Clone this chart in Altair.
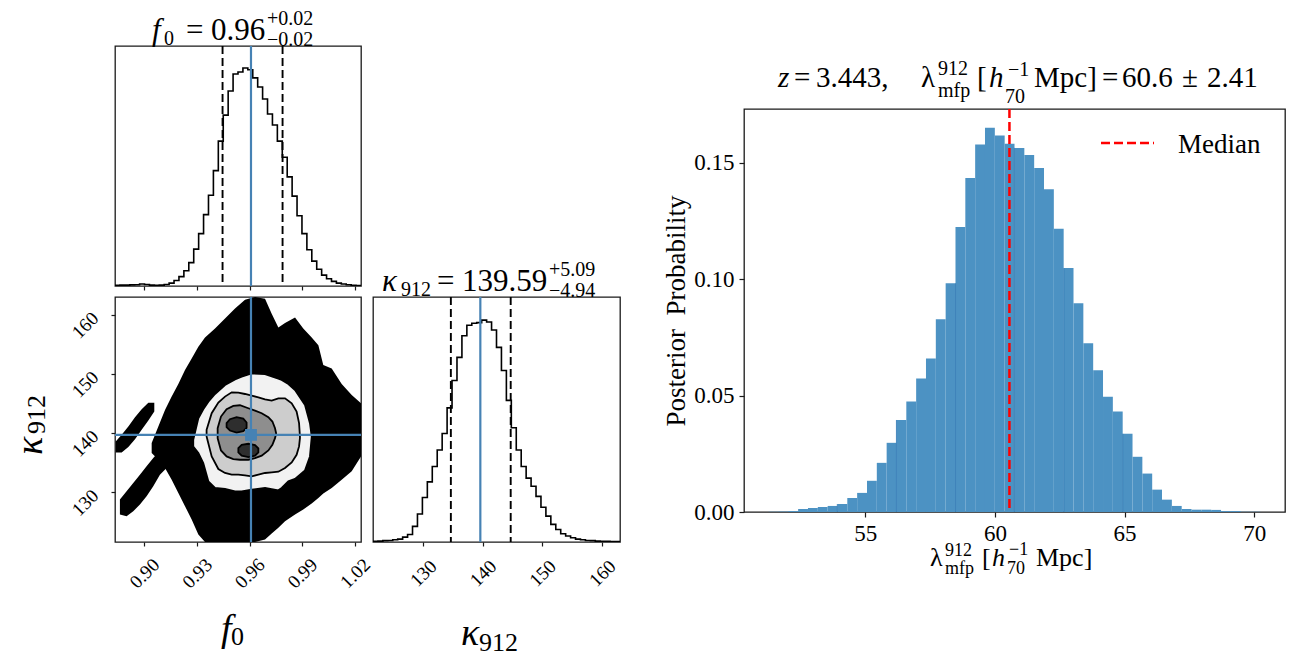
import altair as alt
import pandas as pd

SERIF = "Liberation Serif"
BLUE = "#4682b4"
FRAME = "#1a1a1a"

# ---------------- corner plot data ----------------
F0_DOMAIN = [0.8833, 1.0235]
K_DOMAIN = [121.6, 163.0]
F0_TICKS = [0.90, 0.93, 0.96, 0.99, 1.02]
K_TICKS = [130, 140, 150, 160]

f0_hist = [0.003, 0.004, 0.004, 0.005, 0.006, 0.009, 0.007, 0.004, 0.003, 0.004,
           0.007, 0.013, 0.025, 0.043, 0.070, 0.107, 0.169, 0.240, 0.327, 0.416,
           0.529, 0.664, 0.783, 0.894, 0.972, 0.981, 0.999, 0.991, 0.954, 0.912,
           0.857, 0.788, 0.738, 0.664, 0.590, 0.500, 0.412, 0.322, 0.240, 0.166,
           0.114, 0.077, 0.050, 0.033, 0.021, 0.013, 0.009, 0.006, 0.003, 0.0015]
k_hist = [0.003, 0.004, 0.006, 0.007, 0.010, 0.013, 0.022, 0.034, 0.070, 0.126,
          0.200, 0.270, 0.339, 0.413, 0.487, 0.602, 0.725, 0.829, 0.926, 0.973,
          0.982, 0.985, 0.996, 0.988, 0.952, 0.874, 0.770, 0.636, 0.513, 0.413,
          0.339, 0.287, 0.250, 0.205, 0.156, 0.116, 0.079, 0.056, 0.037, 0.027,
          0.019, 0.013, 0.010, 0.007, 0.006, 0.004, 0.003, 0.003, 0.002, 0.002]
f0_quant = [0.9446, 0.9608, 0.9788]
k_quant = [134.65, 139.59, 144.68]
truth_f0 = 0.9608
truth_k = 139.7

# black sample cloud envelopes (f0, kappa low, kappa high)
main_f0 = [0.9042, 0.9080, 0.9118, 0.9156, 0.9194, 0.9232, 0.9270, 0.9308, 0.9346, 0.9403,
           0.9460, 0.9517, 0.9574, 0.9631, 0.9688, 0.9726, 0.9764, 0.9802, 0.9859, 0.9906,
           0.9954, 0.9992, 1.0020, 1.0068, 1.0125, 1.0182, 1.0235]
main_hi = [138.31, 141.11, 143.92, 146.17, 148.30, 150.65, 152.62, 154.58, 156.15, 157.67,
           159.35, 161.04, 162.55, 163.0, 162.72, 160.19, 157.84, 158.62, 159.52, 157.67,
           156.15, 154.86, 151.50, 150.93, 148.30, 146.45, 145.04]
main_lo = [136.63, 135.50, 134.10, 132.14, 129.89, 127.65, 125.40, 122.88, 121.6, 121.6,
           121.6, 121.6, 121.6, 121.6, 122.04, 123.04, 124.00, 125.12, 126.24, 127.09,
           128.10, 129.05, 129.78, 130.73, 132.14, 133.54, 136.06]
arm_f0 = [0.8861, 0.8899, 0.8937, 0.8975, 0.9013, 0.9051, 0.9089, 0.9127]
arm_hi = [128.77, 130.17, 131.57, 132.98, 134.38, 135.78, 137.07, 137.75]
arm_lo = [126.24, 125.96, 126.80, 127.93, 129.33, 131.01, 132.98, 134.10]
blob_f0 = [0.8837, 0.8871, 0.8909, 0.8947, 0.8985, 0.9023, 0.9057]
blob_hi = [138.59, 139.71, 141.11, 142.69, 144.03, 145.15, 145.15]
blob_lo = [136.74, 136.74, 137.64, 138.98, 140.55, 142.12, 143.64]

# density contours (f0, kappa low, kappa high)
c1_f0 = [0.9279, 0.9308, 0.9336, 0.9365, 0.9403, 0.9460, 0.9517, 0.9555, 0.9612, 0.9688,
         0.9764, 0.9783, 0.9821, 0.9859, 0.9916, 0.9944, 0.9954]
c1_hi = [138.87, 142.52, 144.03, 145.32, 146.61, 148.13, 149.08, 149.53, 150.09, 149.98,
         149.20, 148.97, 148.30, 147.29, 144.76, 141.68, 139.43]
c1_lo = [137.75, 136.63, 134.94, 131.86, 130.73, 130.56, 130.17, 130.17, 130.45, 130.73,
         130.34, 130.73, 131.86, 132.25, 133.71, 136.06, 139.32]
c2_f0 = [0.9355, 0.9384, 0.9422, 0.9460, 0.9498, 0.9536, 0.9574, 0.9612, 0.9650, 0.9688,
         0.9726, 0.9764, 0.9802, 0.9840, 0.9868, 0.9882, 0.9887]
c2_hi = [140.55, 143.36, 145.15, 146.17, 146.89, 146.84, 146.61, 146.33, 146.05, 145.72,
         145.49, 145.88, 145.88, 145.04, 143.64, 141.68, 139.43]
c2_lo = [139.43, 136.06, 133.93, 133.26, 132.98, 132.98, 132.87, 132.70, 132.98, 133.26,
         133.37, 133.48, 134.10, 135.05, 136.34, 137.75, 139.15]
c3_f0 = [0.9418, 0.9437, 0.9469, 0.9507, 0.9545, 0.9593, 0.9631, 0.9669, 0.9707, 0.9730,
         0.9745, 0.9751]
c3_hi = [140.83, 142.80, 144.03, 144.59, 144.71, 144.20, 143.81, 143.36, 142.69, 141.96,
         140.83, 139.99]
c3_lo = [139.15, 137.07, 136.06, 135.62, 135.50, 135.50, 135.78, 136.18, 137.07, 138.03,
         139.15, 139.88]
c4_f0 = [0.9469, 0.9488, 0.9526, 0.9564, 0.9583, 0.9536, 0.9555, 0.9593, 0.9631, 0.9650]
c4_hi = [141.68, 142.35, 142.69, 142.46, 141.79, 137.47, 138.03, 138.20, 137.97, 137.41]
c4_lo = [141.00, 140.44, 140.10, 140.33, 140.89, 136.74, 136.18, 135.95, 136.18, 136.74]
c4_g = ["a"] * 5 + ["b"] * 5

# ---------------- right histogram data ----------------
LAM_EDGES = [51.27, 70.24]
LAM_DOMAIN = [50.32, 71.19]
LAM_TICKS = [55, 60, 65, 70]
P_TICKS = [0.0, 0.05, 0.10, 0.15]
lam_hist = [0.0001, 0.0002, 0.0004, 0.0013, 0.0017, 0.0022, 0.0026, 0.0034, 0.0060, 0.0082,
            0.0134, 0.0211, 0.0297, 0.0395, 0.0474, 0.0573, 0.0659, 0.0827, 0.0982, 0.1223,
            0.1434, 0.1578, 0.1649, 0.1616, 0.1581, 0.1563, 0.1533, 0.1477, 0.1385, 0.1216,
            0.1047, 0.0896, 0.0724, 0.0609, 0.0495, 0.0431, 0.0336, 0.0237, 0.0165, 0.0096,
            0.0053, 0.0026, 0.0013, 0.0010, 0.0010, 0.0009, 0.0004, 0.0004, 0.0001, 0.0001]
lam_median = 60.56
# faint darker seams visible inside the bars
seam_x = [53.92, 56.20, 58.48, 60.75, 62.66, 64.93]
seam_top = [0.0034, 0.0395, 0.0982, 0.1563, 0.1047, 0.0336]

# ---------------- sizes ----------------
W1, H_TOP, H_BOT, WK = 246, 240, 245, 247
WR, HR = 541, 403

ONE = pd.DataFrame({"a": [0]})


def steps(vals, lo, hi):
    n = len(vals)
    w = (hi - lo) / n
    return pd.DataFrame({"x": [lo + i * w for i in range(n + 1)],
                         "y": list(vals) + [vals[-1]]})


def txt(text, x, y, size, italic=False, angle=0, align="left"):
    kw = dict(text=text, align=align, baseline="alphabetic", fontSize=size,
              font=SERIF, color="black")
    if italic:
        kw["fontStyle"] = "italic"
    if angle:
        kw["angle"] = angle
    return alt.Chart(ONE).mark_text(**kw).encode(x=alt.value(x), y=alt.value(y))


xf = alt.Scale(domain=F0_DOMAIN, nice=False, zero=False)
xk = alt.Scale(domain=K_DOMAIN, nice=False, zero=False)


def rot_x_axis(values, fmt):
    return alt.Axis(values=values, format=fmt, labelAngle=-45, labelAlign="center",
                    labelBaseline="middle", labelPadding=27, labelFontSize=19,
                    labelFlush=False, labelOverlap=False, title=None, tickSize=4)


# ---------- f0 marginal ----------
f0_line = alt.Chart(steps(f0_hist, *F0_DOMAIN)).mark_line(
    interpolate="step-after", color="black", strokeWidth=1.6, clip=True).encode(
    x=alt.X("x:Q", scale=xf, axis=alt.Axis(values=F0_TICKS, labels=False, title=None, tickSize=4)),
    y=alt.Y("y:Q", scale=alt.Scale(domain=[0, 1.1], nice=False), axis=None))
f0_dash = alt.Chart(pd.DataFrame({"x": [f0_quant[0], f0_quant[2]]})).mark_rule(
    color="black", strokeDash=[8, 4], strokeWidth=1.9).encode(x="x:Q")
f0_med = alt.Chart(pd.DataFrame({"x": [f0_quant[1]]})).mark_rule(
    color=BLUE, strokeWidth=2.2).encode(x="x:Q")
f0_panel = alt.layer(
    f0_line, f0_dash, f0_med,
    txt("f", 37, -6, 31, italic=True), txt("0", 49, -1, 20),
    txt("=", 71, -6, 31), txt("0.96", 96, -6, 31),
    txt("+0.02", 152, -21, 20), txt("\u22120.02", 152, 0, 20),
).properties(width=W1, height=H_TOP)

# ---------- 2D panel ----------
cloud = pd.concat([
    pd.DataFrame({"f0": main_f0, "lo": main_lo, "hi": main_hi, "g": "main"}),
    pd.DataFrame({"f0": arm_f0, "lo": arm_lo, "hi": arm_hi, "g": "arm"}),
    pd.DataFrame({"f0": blob_f0, "lo": blob_lo, "hi": blob_hi, "g": "blob"}),
])
cloud_layer = alt.Chart(cloud).mark_area(color="black", clip=True).encode(
    x=alt.X("f0:Q", scale=xf, axis=rot_x_axis(F0_TICKS, ".2f")),
    y=alt.Y("lo:Q", scale=alt.Scale(domain=K_DOMAIN, nice=False, zero=False),
            axis=alt.Axis(values=K_TICKS, labelAngle=-45, labelAlign="right",
                          labelBaseline="middle", labelPadding=16, labelFontSize=19,
                          labelOverlap=False, title=None, tickSize=4)),
    y2="hi:Q", detail="g:N")


def contour(f0s, los, his, fill, groups=None):
    df = pd.DataFrame({"f0": f0s, "lo": los, "hi": his,
                       "g": groups if groups else ["c"] * len(f0s)})
    return alt.Chart(df).mark_area(fill=fill, stroke="black", strokeWidth=1.8,
                                   clip=True).encode(
        x="f0:Q", y="lo:Q", y2="hi:Q", detail="g:N")


c_layers = [contour(c1_f0, c1_lo, c1_hi, "#f2f2f2"),
            contour(c2_f0, c2_lo, c2_hi, "#cdcdcd"),
            contour(c3_f0, c3_lo, c3_hi, "#8e8e8e"),
            contour(c4_f0, c4_lo, c4_hi, "#2e2e2e", c4_g)]
vline = alt.Chart(pd.DataFrame({"x": [truth_f0]})).mark_rule(color=BLUE, strokeWidth=2.2).encode(x="x:Q")
hline = alt.Chart(pd.DataFrame({"y": [truth_k]})).mark_rule(color=BLUE, strokeWidth=2.2).encode(y="y:Q")
sq = alt.Chart(pd.DataFrame({"x": [truth_f0], "y": [truth_k]})).mark_square(
    color=BLUE, size=140, opacity=1).encode(x="x:Q", y="y:Q")
twod_panel = alt.layer(
    cloud_layer, *c_layers, vline, hline, sq,
    txt("\u03ba", -73, 158, 38, italic=True, angle=270),
    txt("912", -70, 137, 26, angle=270),
    txt("f", 106, H_BOT + 99, 38, italic=True), txt("0", 116, H_BOT + 103, 26),
).properties(width=W1, height=H_BOT)

# ---------- kappa marginal ----------
k_line = alt.Chart(steps(k_hist, *K_DOMAIN)).mark_line(
    interpolate="step-after", color="black", strokeWidth=1.6, clip=True).encode(
    x=alt.X("x:Q", scale=xk, axis=rot_x_axis(K_TICKS, "d")),
    y=alt.Y("y:Q", scale=alt.Scale(domain=[0, 1.1], nice=False), axis=None))
k_dash = alt.Chart(pd.DataFrame({"x": [k_quant[0], k_quant[2]]})).mark_rule(
    color="black", strokeDash=[8, 4], strokeWidth=1.9).encode(x="x:Q")
k_med = alt.Chart(pd.DataFrame({"x": [k_quant[1]]})).mark_rule(
    color=BLUE, strokeWidth=2.2).encode(x="x:Q")
k_panel = alt.layer(
    k_line, k_dash, k_med,
    txt("\u03ba", 9, -6, 31, italic=True), txt("912", 28, -1, 20),
    txt("=", 64, -6, 31), txt("139.59", 89, -6, 31),
    txt("+5.09", 176, -21, 20), txt("\u22124.94", 176, 0, 20),
    txt("\u03ba", 88, H_BOT + 103, 38, italic=True), txt("912", 106, H_BOT + 109, 26),
).properties(width=WK, height=H_BOT)

# ---------- right histogram ----------
lw = (LAM_EDGES[1] - LAM_EDGES[0]) / len(lam_hist)
lam_df = pd.DataFrame({"lo": [LAM_EDGES[0] + i * lw for i in range(len(lam_hist))],
                       "hi": [LAM_EDGES[0] + (i + 1) * lw for i in range(len(lam_hist))],
                       "p": lam_hist, "base": [0.0] * len(lam_hist)})
bars = alt.Chart(lam_df).mark_rect(color="#4c92c3", strokeWidth=0).encode(
    x=alt.X("lo:Q", scale=alt.Scale(domain=LAM_DOMAIN, nice=False, zero=False),
            axis=alt.Axis(values=LAM_TICKS, format="d", labelFontSize=23, labelPadding=5,
                          labelFlush=False, title=None, tickSize=5)),
    x2="hi:Q",
    y=alt.Y("p:Q", scale=alt.Scale(domain=[0, 0.173], nice=False),
            axis=alt.Axis(values=P_TICKS, format=".2f", labelFontSize=23, labelPadding=5,
                          labelFlush=False, tickSize=5,
                          title="Posterior\u00a0\u00a0Probability", titleFontSize=27,
                          titleFontWeight="normal", titlePadding=3, titleColor="black")),
    y2="base:Q")
seams = alt.Chart(pd.DataFrame({"x": seam_x, "top": seam_top, "base": [0.0] * len(seam_x)})).mark_rule(
    color="#2f78b4", strokeWidth=1, opacity=0.8).encode(x="x:Q", y="top:Q", y2="base:Q")
med_rule = alt.Chart(pd.DataFrame({"m": [lam_median]})).mark_rule(
    color="red", strokeDash=[9, 4], strokeWidth=2.5).encode(x="m:Q")
leg_line = alt.Chart(ONE).mark_rule(color="red", strokeDash=[9, 4], strokeWidth=2.5).encode(
    x=alt.value(357), x2=alt.value(410), y=alt.value(34))
right_panel = alt.layer(
    bars, seams, med_rule, leg_line,
    txt("Median", 434, 44, 27),
    # title
    txt("z", 34, -22, 29, italic=True), txt("=", 50, -22, 29), txt("3.443,", 72, -22, 29),
    txt("\u03bb", 177, -22, 29), txt("912", 194, -34, 20), txt("mfp", 194, -12, 20),
    txt("[", 233, -22, 29), txt("h", 245, -22, 29, italic=True),
    txt("\u22121", 264, -33, 20), txt("70", 261, -6, 20), txt("Mpc]", 290, -22, 29),
    txt("=", 358, -22, 29), txt("60.6", 378, -22, 29), txt("\u00b1", 438, -22, 29),
    txt("2.41", 463, -22, 29),
    # x axis title
    txt("\u03bb", 186, HR + 54, 26), txt("912", 201, HR + 44, 18), txt("mfp", 201, HR + 62, 18),
    txt("[", 238, HR + 54, 26), txt("h", 248, HR + 54, 26, italic=True),
    txt("\u22121", 265, HR + 43, 18), txt("70", 263, HR + 62, 18), txt("Mpc]", 292, HR + 54, 26),
).properties(width=WR, height=HR)

spacer = alt.Chart(ONE).mark_point(opacity=0).encode(
    x=alt.value(0), y=alt.value(0)).properties(
    width=WR, height=63, view=alt.ViewBackground(strokeOpacity=0))

left = alt.vconcat(f0_panel, alt.hconcat(twod_panel, k_panel, spacing=12, bounds="flush"),
                   spacing=11, bounds="flush")
right = alt.vconcat(spacer, right_panel, spacing=0, bounds="flush")

chart = alt.hconcat(left, right, spacing=41, bounds="full").properties(
    padding={"left": 3, "top": 0, "right": 0, "bottom": 0}
).configure_view(stroke=FRAME, strokeWidth=1.3).configure_axis(
    grid=False, domain=False, labelFont=SERIF, titleFont=SERIF, labelColor="black",
    tickColor=FRAME, tickWidth=1.2)

chart.save("out.html", embed_options={"renderer": "svg", "actions": False})
